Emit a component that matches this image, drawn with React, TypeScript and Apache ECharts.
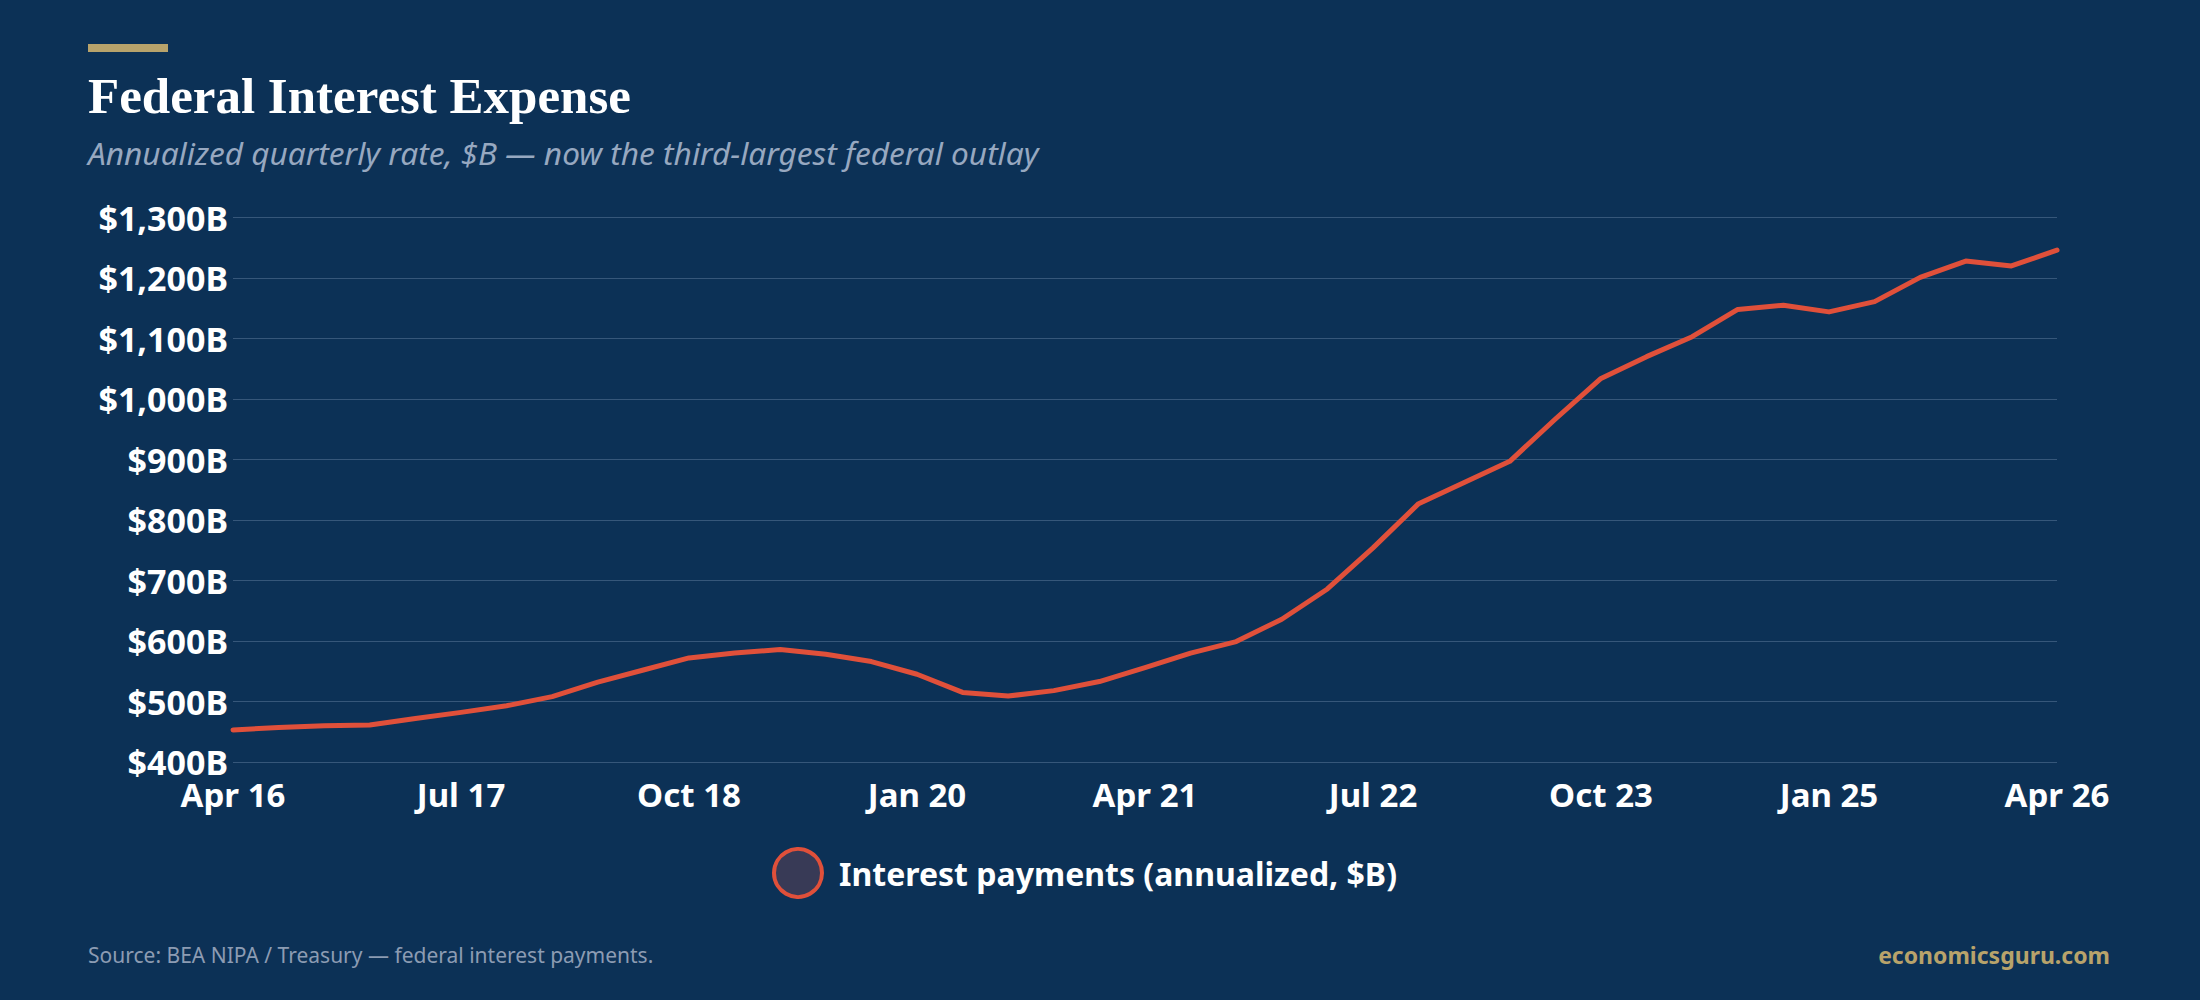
import React, { useEffect, useRef } from "react";
import * as echarts from "echarts";

const categories = [
  "Apr 16", "Jul 16", "Oct 16",
  "Jan 17", "Apr 17", "Jul 17", "Oct 17",
  "Jan 18", "Apr 18", "Jul 18", "Oct 18",
  "Jan 19", "Apr 19", "Jul 19", "Oct 19",
  "Jan 20", "Apr 20", "Jul 20", "Oct 20",
  "Jan 21", "Apr 21", "Jul 21", "Oct 21",
  "Jan 22", "Apr 22", "Jul 22", "Oct 22",
  "Jan 23", "Apr 23", "Jul 23", "Oct 23",
  "Jan 24", "Apr 24", "Jul 24", "Oct 24",
  "Jan 25", "Apr 25", "Jul 25", "Oct 25",
  "Jan 26", "Apr 26",
];

const interestPayments = [
  453, 457, 460, 461, 472, 482, 493, 508, 532, 552,
  572, 580, 586, 578, 566, 545, 515, 509, 518, 533,
  556, 580, 599, 636, 686, 754, 827, 862, 897, 967,
  1034, 1070, 1103, 1148, 1155, 1144, 1161, 1201, 1228, 1220,
  1246,
];

const seriesName = "Interest payments (annualized, $B)";
const yMin = 400;
const yMax = 1300;
const yStep = 100;

const BG = "#0c3156";
const SANS = "'Noto Sans', sans-serif";

export default function App() {
  const ref = useRef<HTMLDivElement>(null);

  useEffect(() => {
    document.body.style.margin = "0";
    document.body.style.background = BG;
    const chart = echarts.init(ref.current!, null, { renderer: "svg" });
    chart.setOption({
      animation: false,
      backgroundColor: BG,
      grid: { left: 233, right: 143, top: 217.5, bottom: 238 },
      graphic: [
        { type: "rect", left: 88, top: 44, shape: { width: 80, height: 8 }, style: { fill: "#b8a36b" } },
        {
          type: "text", x: 88, y: 96,
          style: {
            text: "Federal Interest Expense", fill: "#ffffff",
            font: "bold 51px 'Liberation Serif', serif", verticalAlign: "middle",
          },
        },
        {
          type: "text", x: 88, y: 152,
          style: {
            text: "Annualized quarterly rate, $B — now the third-largest federal outlay",
            fill: "#97a8c0", font: `italic 31.6px ${SANS}`, verticalAlign: "middle",
          },
        },
        {
          type: "text", x: 88, y: 955,
          style: {
            text: "Source: BEA NIPA / Treasury — federal interest payments.",
            fill: "#8c9cb3", font: `21px ${SANS}`, verticalAlign: "middle",
          },
        },
        {
          type: "text", x: 2110, y: 955,
          style: {
            text: "economicsguru.com", fill: "#b8a36b",
            font: `bold 23px ${SANS}`, align: "right", verticalAlign: "middle",
          },
        },
      ],
      legend: {
        left: 772, top: 847, padding: 0,
        icon: "circle", itemWidth: 72, itemHeight: 48,
        itemStyle: { color: "#383a56", borderColor: "#e0503a", borderWidth: 4 },
        textStyle: { color: "#ffffff", fontSize: 32, fontWeight: "bold", fontFamily: SANS },
        data: [seriesName],
      },
      xAxis: {
        type: "category",
        data: categories,
        boundaryGap: false,
        axisLine: { show: false },
        axisTick: { show: false },
        axisLabel: {
          interval: 4, margin: 19, color: "#ffffff", lineHeight: 26,
          fontSize: 33, fontWeight: "bold", fontFamily: SANS,
        },
        splitLine: { show: false },
      },
      yAxis: {
        type: "value",
        min: yMin, max: yMax, interval: yStep,
        axisLine: { show: false },
        axisTick: { show: false },
        axisLabel: {
          margin: 5, color: "#ffffff", lineHeight: 26,
          fontSize: 34, fontWeight: "bold", fontFamily: SANS,
          formatter: (v: number) => "$" + v.toLocaleString("en-US") + "B",
        },
        splitLine: { lineStyle: { color: "#36577a", width: 1 } },
      },
      series: [
        {
          name: seriesName,
          type: "line",
          data: interestPayments,
          smooth: false,
          symbol: "none",
          lineStyle: { color: "#e0503a", width: 5, join: "round", cap: "round" },
          itemStyle: { color: "#e0503a" },
        },
      ],
    });
    return () => chart.dispose();
  }, []);

  return <div ref={ref} style={{ width: 2200, height: 1000, background: BG }} />;
}
